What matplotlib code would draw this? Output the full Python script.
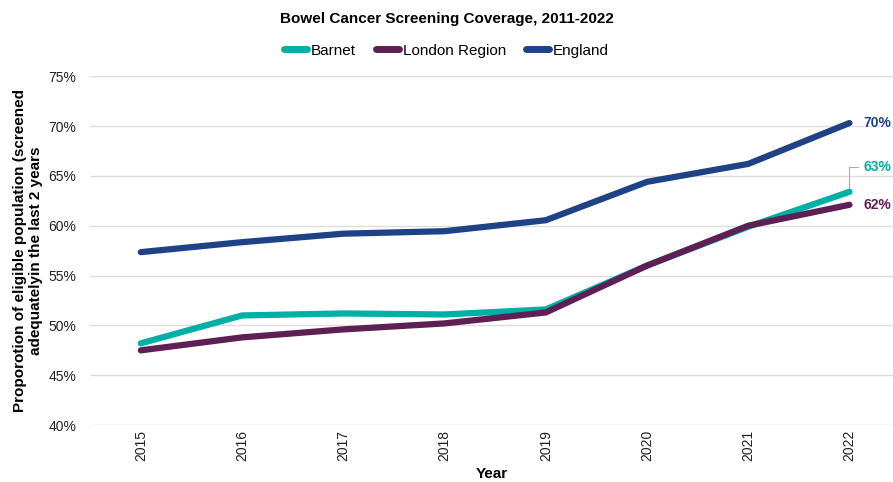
import matplotlib
matplotlib.use("Agg")
import matplotlib.pyplot as plt
from matplotlib.ticker import FuncFormatter

plt.rcParams['font.family'] = ['Liberation Sans', 'DejaVu Sans']

years = [2015, 2016, 2017, 2018, 2019, 2020, 2021, 2022]
barnet = [48.2, 51.0, 51.2, 51.1, 51.6, 56.0, 59.9, 63.4]
london = [47.5, 48.8, 49.6, 50.2, 51.3, 56.0, 60.0, 62.1]
england = [57.35, 58.35, 59.2, 59.45, 60.55, 64.4, 66.2, 70.3]

c_barnet = '#00B0A6'
c_london = '#5E1F55'
c_england = '#1F4286'

fig = plt.figure(figsize=(8.93, 4.82), dpi=100)
ax = fig.add_axes([0.101, 0.118, 0.899, 0.724])

ax.plot(years, england, color=c_england, lw=4.5, solid_capstyle='round', label='England', zorder=3)
ax.plot(years, barnet, color=c_barnet, lw=4.5, solid_capstyle='round', label='Barnet', zorder=4)
ax.plot(years, london, color=c_london, lw=4.5, solid_capstyle='round', label='London Region', zorder=5)

ax.set_ylim(40, 75)
ax.set_xlim(2014.5, 2022.43)
ax.set_yticks(range(40, 80, 5))
ax.yaxis.set_major_formatter(FuncFormatter(lambda v, p: f"{v:.0f}%"))
ax.set_xticks(years)
ax.set_xticklabels([str(y) for y in years], rotation=90)
ax.tick_params(axis='both', length=0, labelsize=10, colors='#222222')
ax.tick_params(axis='y', pad=10)
ax.grid(axis='y', color='#dddddd', lw=1)
ax.set_axisbelow(True)
for s in ax.spines.values():
    s.set_visible(False)

ax.set_xlabel('Year', fontsize=11, fontweight='bold', labelpad=4)
ax.set_ylabel('Proporotion of eligible population (screened\nadequatelyin the last 2 years',
              fontsize=11, fontweight='bold', labelpad=4)

# end labels
ax.annotate(f"{england[-1]:.0f}%", (years[-1], england[-1]), xytext=(10, 0),
            textcoords='offset points', va='center', ha='left', color=c_england,
            fontsize=10, fontweight='bold')
ax.annotate(f"{london[-1]:.0f}%", (years[-1], london[-1]), xytext=(10, 0),
            textcoords='offset points', va='center', ha='left', color=c_london,
            fontsize=10, fontweight='bold')
ax.annotate(f"{barnet[-1]:.0f}%", (years[-1], barnet[-1]), xytext=(10, 18),
            textcoords='offset points', va='center', ha='left', color=c_barnet,
            fontsize=10, fontweight='bold',
            arrowprops=dict(arrowstyle='-', color='#aaaaaa', lw=0.8,
                            connectionstyle='angle,angleA=0,angleB=90,rad=0',
                            shrinkA=2, shrinkB=3))

handles, labels = ax.get_legend_handles_labels()
order = [1, 2, 0]
leg = fig.legend([handles[i] for i in order], [labels[i] for i in order],
                 loc='center', bbox_to_anchor=(0.5, 0.895), ncol=3, frameon=False,
                 fontsize=11, handlelength=1.5, handletextpad=0.25, columnspacing=1.3)
for h in leg.legend_handles:
    h.set_linewidth(5)
    h.set_solid_capstyle('round')
fig.suptitle('Bowel Cancer Screening Coverage, 2011-2022', y=0.975,
             fontsize=11, fontweight='bold')

fig.savefig('out.png', dpi=100)
